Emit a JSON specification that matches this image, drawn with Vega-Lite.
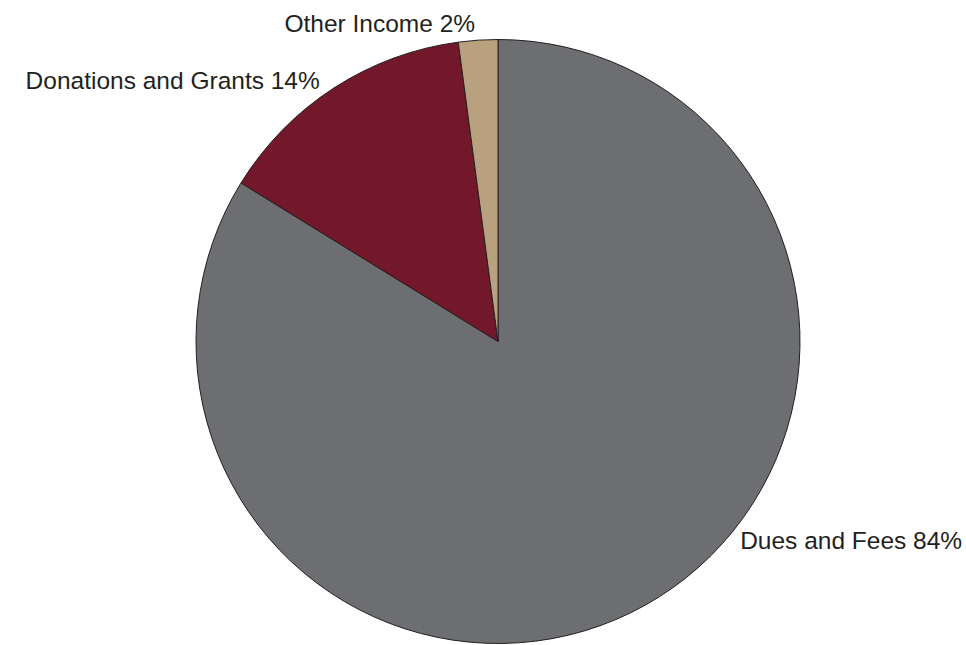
{
  "$schema": "https://vega.github.io/schema/vega-lite/v6.json",
  "width": 936,
  "height": 607,
  "autosize": {"type": "none"},
  "padding": {"left": 30, "top": 38, "right": 0, "bottom": 0},
  "background": "white",
  "config": {"view": {"stroke": null}},
  "data": {
    "values": [
      {"category": "Dues and Fees", "value": 83.8, "label": "Dues and Fees 84%"},
      {"category": "Donations and Grants", "value": 14.1, "label": "Donations and Grants 14%"},
      {"category": "Other Income", "value": 2.1, "label": "Other Income 2%"}
    ]
  },
  "encoding": {
    "theta": {"field": "value", "type": "quantitative", "stack": true},
    "order": {"field": "value", "type": "quantitative", "sort": "descending"}
  },
  "layer": [
    {
      "mark": {"type": "arc", "outerRadius": 302, "stroke": "#231f20", "strokeWidth": 1},
      "encoding": {
        "color": {
          "field": "category",
          "type": "nominal",
          "scale": {
            "domain": ["Dues and Fees", "Donations and Grants", "Other Income"],
            "range": ["#6d6e71", "#73172a", "#b9a07e"]
          },
          "legend": null
        }
      }
    },
    {
      "mark": {"type": "text", "radius": 302, "align": "left", "baseline": "alphabetic", "dx": 95, "dy": -56, "font": "Liberation Sans", "fontSize": 24.5, "color": "#231f20"},
      "encoding": {
        "text": {"condition": {"test": "datum.category === 'Dues and Fees'", "field": "label"}, "value": ""}
      }
    },
    {
      "mark": {"type": "text", "radius": 302, "align": "right", "baseline": "alphabetic", "dx": -14, "dy": 1, "font": "Liberation Sans", "fontSize": 24.5, "color": "#231f20"},
      "encoding": {
        "text": {"condition": {"test": "datum.category === 'Donations and Grants'", "field": "label"}, "value": ""}
      }
    },
    {
      "mark": {"type": "text", "radius": 302, "align": "right", "baseline": "alphabetic", "dx": -3, "dy": -8, "font": "Liberation Sans", "fontSize": 24.5, "color": "#231f20"},
      "encoding": {
        "text": {"condition": {"test": "datum.category === 'Other Income'", "field": "label"}, "value": ""}
      }
    }
  ]
}
